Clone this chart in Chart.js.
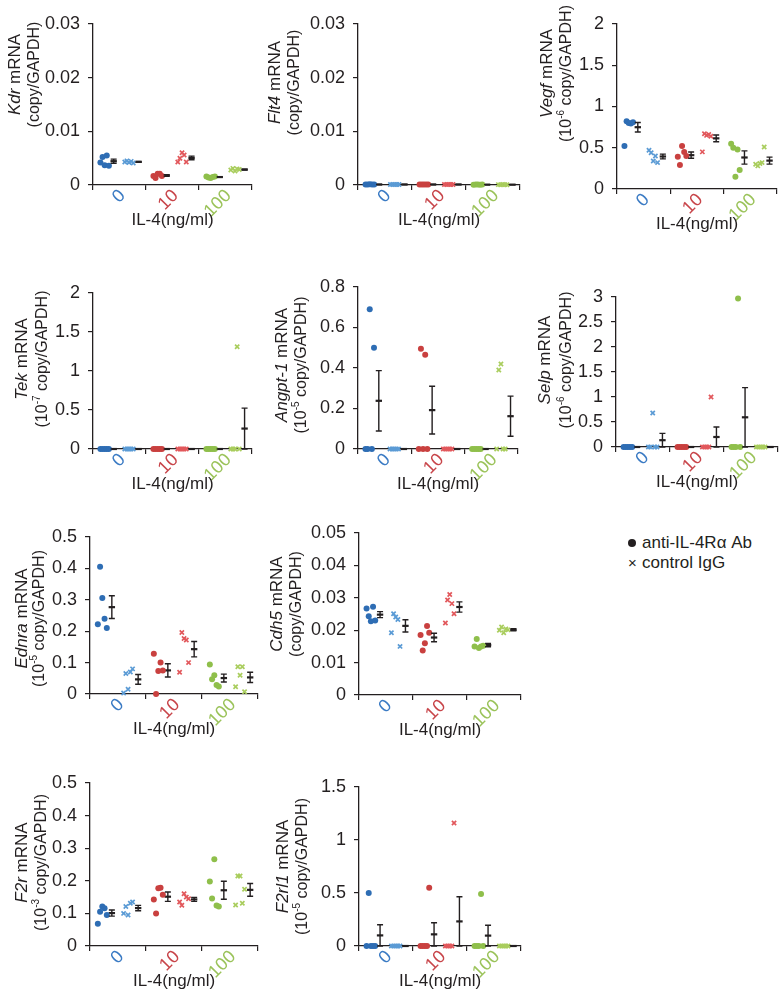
<!DOCTYPE html>
<html>
<head>
<meta charset="utf-8">
<script src="https://cdn.jsdelivr.net/npm/chart.js@4.4.1/dist/chart.umd.min.js"></script>
<style>
  html, body { margin: 0; padding: 0; background: #fff; }
  #page { position: relative; width: 779px; height: 995px; overflow: hidden;
          font-family: 'Liberation Sans', Arial, sans-serif; color: #231f20; }
  #page canvas { position: absolute; }
  .legend { position: absolute; left: 628px; font-size: 17px; line-height: 20px; white-space: nowrap; }
  .dot { display: inline-block; width: 8px; height: 8px; border-radius: 50%; background: #231f20;
         margin-right: 6px; vertical-align: 1px; }
  .cross { display: inline-block; width: 8px; margin-right: 6px; font-size: 15px; text-align: center; }
</style>
</head>
<body>
<div id="page">
  <div class="legend" style="top:533px"><span class="dot"></span>anti-IL-4Rα Ab</div>
  <div class="legend" style="top:553px"><span class="cross">×</span>control IgG</div>
</div>
<script>
// IL-4 doses (x categories)
const doses = ['0', '10', '100'];
const antiColors = ['#2e6db4', '#c9403f', '#8fbf4b'];
const ctrlColors = ['#5b9bd5', '#e2585c', '#a9cd5d'];
const doseColors = ['#3b7bc4', '#c8454a', '#9bc35a'];

// five wells per group, per dose, listed left to right as plotted
const kdrAnti = [[0.0042, 0.0052, 0.0037, 0.0055, 0.0036], [0.0017, 0.0013, 0.0021, 0.0021, 0.0017], [0.0016, 0.0014, 0.0013, 0.0015, 0.0016]];
const kdrCtrl = [[0.0043, 0.0045, 0.0042, 0.0044, 0.0041], [0.0043, 0.0050, 0.0060, 0.0056, 0.0043], [0.0028, 0.0031, 0.0026, 0.0030, 0.0029]];

const flt4Anti = [[0.0001, 0.00008, 0.00012, 0.0001, 0.00009], [0.0001, 0.00009, 0.00011, 0.0001, 0.00008], [0.00006, 0.00008, 0.00007, 0.00006, 0.00008]];
const flt4Ctrl = [[0.0001, 0.00009, 0.0001, 0.00011, 0.0001], [0.0001, 0.00008, 0.00012, 0.0001, 0.00009], [0.00007, 0.00006, 0.00008, 0.00007, 0.00006]];

const vegfAnti = [[0.52, 0.82, 0.80, 0.795, 0.81], [0.39, 0.29, 0.52, 0.45, 0.40], [0.55, 0.50, 0.15, 0.48, 0.23]];
const vegfCtrl = [[0.47, 0.44, 0.34, 0.40, 0.32], [0.45, 0.67, 0.65, 0.66, 0.64], [0.30, 0.28, 0.31, 0.32, 0.51]];

const tekAnti = [[0, 0, 0, 0, 0], [0, 0, 0, 0, 0], [0, 0, 0, 0, 0]];
const tekCtrl = [[0, 0, 0, 0, 0], [0, 0, 0, 0, 0], [0, 0, 0, 1.31, 0]];

const angptAnti = [[0, 0, 0.69, 0, 0.50], [0, 0.495, 0, 0.465, 0], [0, 0, 0, 0, 0]];
const angptCtrl = [[0, 0, 0, 0, 0], [0, 0, 0, 0, 0], [0, 0.39, 0.42, 0, 0]];

const selpAnti = [[0, 0, 0, 0, 0], [0, 0, 0, 0, 0], [0, 0, 0, 2.97, 0]];
const selpCtrl = [[0, 0, 0.68, 0, 0], [0, 0, 0, 0, 1.0], [0, 0, 0, 0, 0]];

const ednraAnti = [[0.222, 0.405, 0.306, 0.24, 0.21], [0.128, 0.0, 0.073, 0.10, 0.075], [0.094, 0.047, 0.06, 0.029, 0.024]];
const ednraCtrl = [[0.003, 0.065, 0.015, 0.07, 0.08], [0.069, 0.196, 0.177, 0.172, 0.10], [0.023, 0.087, 0.06, 0.087, 0.007]];

const cdh5Anti = [[0.0267, 0.0243, 0.0228, 0.0272, 0.0230], [0.0185, 0.0137, 0.0160, 0.0213, 0.0192], [0.0150, 0.0173, 0.0145, 0.0150, 0.0152]];
const cdh5Ctrl = [[0.0192, 0.0251, 0.0241, 0.0233, 0.0150], [0.0222, 0.0293, 0.0310, 0.0282, 0.0251], [0.0200, 0.0210, 0.0192, 0.0204, 0.0201]];

const f2rAnti = [[0.068, 0.105, 0.121, 0.116, 0.095], [0.143, 0.10, 0.177, 0.179, 0.157], [0.198, 0.146, 0.266, 0.124, 0.121]];
const f2rCtrl = [[0.10, 0.121, 0.095, 0.131, 0.135], [0.135, 0.125, 0.16, 0.15, 0.145], [0.126, 0.215, 0.215, 0.131, 0.174]];

const f2rl1Anti = [[0, 0.5, 0, 0, 0], [0, 0, 0, 0, 0.55], [0, 0, 0, 0.49, 0]];
const f2rl1Ctrl = [[0, 0, 0, 0, 0], [0, 0, 0, 0, 1.16], [0, 0, 0, 0, 0]];

// layout: box = [y-axis x, top, right, x-axis y]; title = [line1 dx, line2 dx, dy]
const panels = [
  { gene: 'Kdr', exp: '', anti: kdrAnti, ctrl: kdrCtrl, max: 0.03, step: 0.01, box: [93, 24, 252, 185], title: [-78, -58, -30] },
  { gene: 'Flt4', exp: '', anti: flt4Anti, ctrl: flt4Ctrl, max: 0.03, step: 0.01, box: [358, 24, 520, 185], title: [-83, -63, -22] },
  { gene: 'Vegf', exp: '-6', anti: vegfAnti, ctrl: vegfCtrl, max: 2, step: 0.5, box: [617, 24, 777, 189], title: [-70, -50, -33] },
  { gene: 'Tek', exp: '-7', anti: tekAnti, ctrl: tekCtrl, max: 2, step: 0.5, box: [93, 293, 252, 449], title: [-71, -50, -12] },
  { gene: 'Angpt-1', exp: '-5', anti: angptAnti, ctrl: angptCtrl, max: 0.8, step: 0.2, box: [358, 287, 518, 449], title: [-76, -56, -3] },
  { gene: 'Selp', exp: '-6', anti: selpAnti, ctrl: selpCtrl, max: 3, step: 0.5, box: [616, 297, 778, 447], title: [-71, -49, -12] },
  { gene: 'Ednra', exp: '-5', anti: ednraAnti, ctrl: ednraCtrl, max: 0.5, step: 0.1, box: [90, 537, 258, 694], title: [-68, -50, 3] },
  { gene: 'Cdh5', exp: '', anti: cdh5Anti, ctrl: cdh5Ctrl, max: 0.05, step: 0.01, box: [359, 533, 521, 695], title: [-82, -62, -10] },
  { gene: 'F2r', exp: '-3', anti: f2rAnti, ctrl: f2rCtrl, max: 0.5, step: 0.1, box: [90, 783, 258, 946], title: [-68, -48, -2] },
  { gene: 'F2rl1', exp: '-5', anti: f2rl1Anti, ctrl: f2rl1Ctrl, max: 1.5, step: 0.5, box: [359, 787, 521, 946], title: [-76, -56, 0] }
];

const INK = '#231f20';
const FONT = "'Liberation Sans', Arial, sans-serif";
const PAD_LEFT = 100, PAD_TOP = 24, PAD_RIGHT = 8, PAD_BOTTOM = 55;

function mean(v) { return v.reduce((s, a) => s + a, 0) / v.length; }
function sem(v) {
  const m = mean(v);
  const ss = v.reduce((s, a) => s + (a - m) * (a - m), 0);
  return Math.sqrt(ss / (v.length - 1)) / Math.sqrt(v.length);
}

function pointSet(values, dose, start, color, anti) {
  return {
    data: values.map((v, i) => ({ x: dose + start + i * 0.04, y: v })),
    pointStyle: anti ? 'circle' : 'crossRot',
    pointRadius: anti ? 3 : 3,
    pointBackgroundColor: color,
    pointBorderColor: color,
    pointBorderWidth: anti ? 0 : 1.7,
    showLine: false,
    clip: false
  };
}

function meanSet(groups, start) {
  return {
    data: groups.map((g, d) => ({ x: d + start, y: mean(g) })),
    sem: groups.map(g => sem(g)),
    pointStyle: 'line',
    pointRadius: 3.2,
    pointBorderColor: INK,
    pointBorderWidth: 2.2,
    showLine: false,
    clip: false
  };
}

// draw one line of mixed-style text rotated -90deg, centred at (cx, cy)
function drawRuns(ctx, runs, cx, cy, size) {
  ctx.save();
  ctx.translate(cx, cy);
  ctx.rotate(-Math.PI / 2);
  ctx.fillStyle = INK;
  ctx.textBaseline = 'middle';
  ctx.textAlign = 'left';
  const fontOf = r => (r.it ? 'italic ' : '') + (r.sup ? Math.round(size * 0.62) : size) + 'px ' + FONT;
  let total = 0;
  runs.forEach(r => { ctx.font = fontOf(r); r.w = ctx.measureText(r.t).width; total += r.w; });
  let x = -total / 2;
  runs.forEach(r => { ctx.font = fontOf(r); ctx.fillText(r.t, x, r.sup ? -size * 0.33 : 0); x += r.w; });
  ctx.restore();
}

const decor = {
  id: 'decor',
  afterDatasetsDraw(chart) {
    const { ctx, scales: { x, y } } = chart;
    ctx.save();
    ctx.strokeStyle = INK;
    ctx.lineWidth = 1.4;
    chart.data.datasets.forEach(ds => {
      if (!ds.sem) return;
      ds.data.forEach((pt, i) => {
        const px = x.getPixelForValue(pt.x);
        const hi = y.getPixelForValue(pt.y + ds.sem[i]);
        const lo = y.getPixelForValue(pt.y - ds.sem[i]);
        ctx.beginPath();
        ctx.moveTo(px, hi); ctx.lineTo(px, lo);
        ctx.moveTo(px - 3, hi); ctx.lineTo(px + 3, hi);
        ctx.moveTo(px - 3, lo); ctx.lineTo(px + 3, lo);
        ctx.stroke();
      });
    });
    ctx.restore();
  },
  afterDraw(chart, args, opts) {
    const { ctx, chartArea: a, scales: { x } } = chart;
    const p = opts.panel;
    ctx.save();
    // rotated dose labels
    ctx.font = '18px ' + FONT;
    ctx.textAlign = 'right';
    ctx.textBaseline = 'middle';
    doses.forEach((lab, i) => {
      ctx.save();
      ctx.translate(x.getPixelForValue(i + 0.5) + 3, a.bottom + 8);
      ctx.rotate(-Math.PI / 4);
      ctx.fillStyle = doseColors[i];
      ctx.fillText(lab, 0, 0);
      ctx.restore();
    });
    // x title
    ctx.font = '17px ' + FONT;
    ctx.fillStyle = INK;
    ctx.textAlign = 'center';
    ctx.fillText('IL-4(ng/ml)', (a.left + a.right) / 2, a.bottom + 35);
    ctx.restore();
    // y title, two lines
    const cy = (a.top + a.bottom) / 2 + p.title[2];
    drawRuns(ctx, [{ t: p.gene, it: true }, { t: ' mRNA' }], a.left + p.title[0], cy, 17);
    const unit = p.exp
      ? [{ t: '(10' }, { t: p.exp, sup: true }, { t: ' copy/GAPDH)' }]
      : [{ t: '(copy/GAPDH)' }];
    drawRuns(ctx, unit, a.left + p.title[1], cy, 16);
  }
};

const page = document.getElementById('page');

panels.forEach(p => {
  const [ax, top, right, bottom] = p.box;
  const canvas = document.createElement('canvas');
  const w = PAD_LEFT + (right - ax) + PAD_RIGHT;
  const h = PAD_TOP + (bottom - top) + PAD_BOTTOM;
  canvas.width = w; canvas.height = h;
  canvas.style.left = (ax - PAD_LEFT) + 'px';
  canvas.style.top = (top - PAD_TOP) + 'px';
  canvas.style.width = w + 'px';
  canvas.style.height = h + 'px';
  page.appendChild(canvas);

  const datasets = [];
  doses.forEach((d, i) => {
    datasets.push(pointSet(p.anti[i], i, 0.14, antiColors[i], true));
    datasets.push(pointSet(p.ctrl[i], i, 0.60, ctrlColors[i], false));
  });
  datasets.push(meanSet(p.anti, 0.39));
  datasets.push(meanSet(p.ctrl, 0.86));

  new Chart(canvas, {
    type: 'scatter',
    data: { datasets },
    options: {
      responsive: false,
      animation: false,
      events: [],
      layout: { padding: { left: 0, top: PAD_TOP, right: PAD_RIGHT, bottom: 0 } },
      plugins: { legend: { display: false }, tooltip: { enabled: false }, decor: { panel: p } },
      scales: {
        x: {
          type: 'linear', min: 0, max: 3,
          ticks: { stepSize: 1, display: false },
          grid: { drawOnChartArea: false, drawTicks: true, tickLength: 5, color: INK, lineWidth: 1.2 },
          border: { color: INK, width: 1.3 },
          afterFit: s => { s.height = PAD_BOTTOM; }
        },
        y: {
          min: 0, max: p.max,
          ticks: {
            stepSize: p.step, color: INK, padding: 8, font: { family: FONT, size: 18 },
            callback: v => String(Number(v.toFixed(6)))
          },
          grid: { drawOnChartArea: false, drawTicks: true, tickLength: 5, color: INK, lineWidth: 1.2 },
          border: { color: INK, width: 1.3 },
          afterFit: s => { s.width = PAD_LEFT; }
        }
      }
    },
    plugins: [decor]
  });
});
</script>
</body>
</html>
